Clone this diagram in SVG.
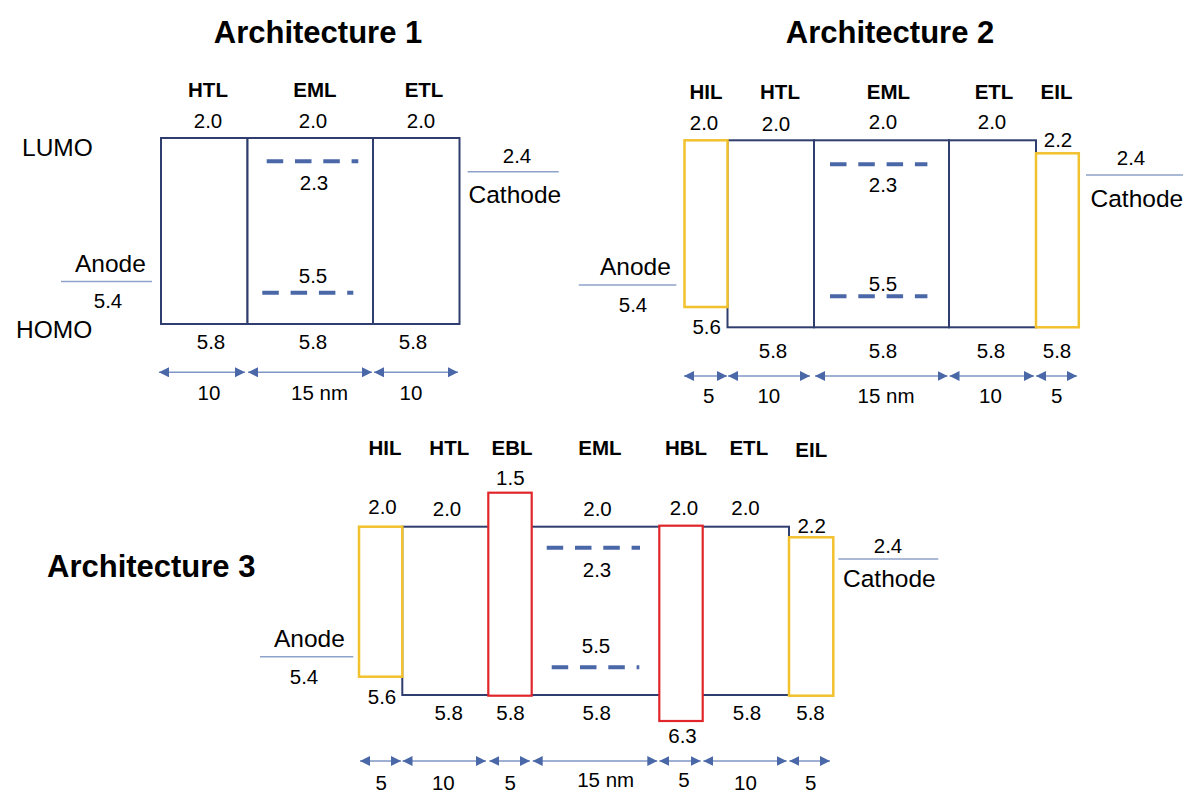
<svg xmlns="http://www.w3.org/2000/svg" width="1199" height="811" viewBox="0 0 1199 811">
<defs>
<style>
text{font-family:"Liberation Sans",Arial,sans-serif;fill:#000}
.t{font-size:31px;font-weight:bold}
.lb{font-size:20.5px;font-weight:bold;text-anchor:middle}
.n{font-size:20.5px;text-anchor:middle}
.w{font-size:24.5px}
.nv{fill:#fff;stroke:#2F3E6E;stroke-width:2}
.yl{fill:#fff;stroke:#F2C12E;stroke-width:2.5}
.rd{fill:#fff;stroke:#E0262B;stroke-width:2.2}
.ds{stroke:#4A67A8;stroke-width:4;stroke-dasharray:16.5 11.8;fill:none}
.el{stroke:#8EA3C9;stroke-width:1.5}
.ar{stroke:#7F96C6;stroke-width:1.5;marker-start:url(#ah);marker-end:url(#ah)}
</style>
<marker id="ah" markerUnits="userSpaceOnUse" markerWidth="11" markerHeight="11" refX="10" refY="5" orient="auto-start-reverse">
<path d="M0,0 L10,5 L0,10 z" fill="#4A67A8"/>
</marker>
</defs>
<rect width="1199" height="811" fill="#fff"/>

<!-- Titles -->
<text class="t" x="318" y="43" text-anchor="middle">Architecture 1</text>
<text class="t" x="890" y="43" text-anchor="middle">Architecture 2</text>
<text class="t" x="47" y="577">Architecture 3</text>

<!-- ===== Architecture 1 ===== -->
<g id="a1-side">
<text class="w" x="22" y="156">LUMO</text>
<text class="w" x="16" y="338">HOMO</text>
</g>
<g id="a1-anode">
<text class="w" x="75" y="272">Anode</text>
<line class="el" x1="61" y1="281.5" x2="152" y2="281.5"/>
<text class="n" x="108" y="308">5.4</text>
</g>
<g id="a1-htl">
<text class="lb" x="208" y="97">HTL</text>
<text class="n" x="208" y="128">2.0</text>
<rect class="nv" x="161" y="138" width="86.5" height="186"/>
<text class="n" x="211" y="349">5.8</text>
</g>
<g id="a1-eml">
<text class="lb" x="315" y="97">EML</text>
<text class="n" x="313" y="128">2.0</text>
<rect class="nv" x="247.5" y="138" width="125.5" height="186"/>
<line class="ds" x1="266.7" y1="161.3" x2="358.3" y2="161.3"/>
<text class="n" x="314" y="190">2.3</text>
<text class="n" x="313" y="283">5.5</text>
<line class="ds" x1="262.3" y1="292.7" x2="353.3" y2="292.7"/>
<text class="n" x="313" y="349">5.8</text>
</g>
<g id="a1-etl">
<text class="lb" x="424" y="97">ETL</text>
<text class="n" x="421" y="128">2.0</text>
<rect class="nv" x="373" y="138" width="86.5" height="186"/>
<text class="n" x="413" y="349">5.8</text>
</g>
<g id="a1-cathode">
<text class="n" x="517" y="162.5">2.4</text>
<line class="el" x1="467.7" y1="171.7" x2="558.7" y2="171.7"/>
<text class="w" x="468.5" y="202.5">Cathode</text>
</g>

<!-- ===== Architecture 2 ===== -->
<g id="a2-anode">
<text class="w" x="600" y="275">Anode</text>
<line class="el" x1="578.8" y1="285" x2="676.4" y2="285"/>
<text class="n" x="633" y="311.5">5.4</text>
</g>
<g id="a2-htl">
<text class="lb" x="780" y="99">HTL</text>
<text class="n" x="776" y="131">2.0</text>
<rect class="nv" x="727.5" y="140.3" width="86.5" height="187"/>
<text class="n" x="773" y="358">5.8</text>
</g>
<g id="a2-eml">
<text class="lb" x="888.5" y="99">EML</text>
<text class="n" x="883" y="129">2.0</text>
<rect class="nv" x="814" y="140.3" width="135" height="187"/>
<line class="ds" x1="830" y1="164.3" x2="927.4" y2="164.3"/>
<text class="n" x="883" y="191.5">2.3</text>
<text class="n" x="883" y="291">5.5</text>
<line class="ds" x1="830" y1="296.3" x2="927.4" y2="296.3"/>
<text class="n" x="883" y="358">5.8</text>
</g>
<g id="a2-etl">
<text class="lb" x="994" y="99">ETL</text>
<text class="n" x="992" y="129">2.0</text>
<rect class="nv" x="949" y="140.3" width="87" height="187"/>
<text class="n" x="991" y="358">5.8</text>
</g>
<g id="a2-hil">
<text class="lb" x="706" y="99">HIL</text>
<text class="n" x="704" y="130">2.0</text>
<rect class="yl" x="684.5" y="140.3" width="43" height="166.7"/>
<text class="n" x="706.7" y="334">5.6</text>
</g>
<g id="a2-eil">
<text class="lb" x="1056.5" y="99">EIL</text>
<text class="n" x="1058" y="146.5">2.2</text>
<rect class="yl" x="1036" y="153.3" width="42.8" height="174"/>
<text class="n" x="1057" y="358">5.8</text>
</g>
<g id="a2-cathode">
<text class="n" x="1131" y="165">2.4</text>
<line class="el" x1="1086" y1="175" x2="1183" y2="175"/>
<text class="w" x="1090.5" y="207">Cathode</text>
</g>

<!-- ===== Architecture 3 ===== -->
<g id="a3-anode">
<text class="w" x="274" y="646.5">Anode</text>
<line class="el" x1="260" y1="656.7" x2="353.3" y2="656.7"/>
<text class="n" x="304" y="684">5.4</text>
</g>
<g id="a3-htl">
<text class="lb" x="449.3" y="455">HTL</text>
<text class="n" x="447" y="516">2.0</text>
<rect class="nv" x="402.3" y="526.7" width="386.7" height="168.3"/>
<text class="n" x="448.7" y="720">5.8</text>
</g>
<g id="a3-eml">
<text class="lb" x="600" y="455">EML</text>
<text class="n" x="597.5" y="516">2.0</text>
<line class="ds" x1="546.7" y1="547.7" x2="640" y2="547.7"/>
<text class="n" x="597" y="576.7">2.3</text>
<text class="n" x="596" y="652.7">5.5</text>
<line class="ds" x1="551.7" y1="667.3" x2="639.3" y2="667.3"/>
<text class="n" x="596.7" y="720">5.8</text>
</g>
<g id="a3-etl">
<text class="lb" x="748.8" y="455">ETL</text>
<text class="n" x="745.5" y="515">2.0</text>
<text class="n" x="747" y="720">5.8</text>
</g>
<g id="a3-hil">
<text class="lb" x="385" y="455">HIL</text>
<text class="n" x="382.5" y="514">2.0</text>
<rect class="yl" x="359" y="526.7" width="43.3" height="150"/>
<text class="n" x="382" y="704">5.6</text>
</g>
<g id="a3-ebl">
<text class="lb" x="512" y="455">EBL</text>
<text class="n" x="510.3" y="485">1.5</text>
<rect class="rd" x="488.3" y="492.7" width="43.4" height="203"/>
<text class="n" x="510.5" y="720">5.8</text>
</g>
<g id="a3-hbl">
<text class="lb" x="686" y="455">HBL</text>
<text class="n" x="684" y="515">2.0</text>
<rect class="rd" x="659.3" y="525.7" width="43.4" height="195.3"/>
<text class="n" x="682.5" y="743">6.3</text>
</g>
<g id="a3-eil">
<text class="lb" x="811.3" y="457">EIL</text>
<text class="n" x="811.7" y="533">2.2</text>
<rect class="yl" x="789" y="537.3" width="44.3" height="158.4"/>
<text class="n" x="810.5" y="720">5.8</text>
</g>
<g id="a3-cathode">
<text class="n" x="888" y="552.7">2.4</text>
<line class="el" x1="838.3" y1="559" x2="938.3" y2="559"/>
<text class="w" x="843" y="587">Cathode</text>
</g>

<!-- ===== Thickness connectors ===== -->
<g id="connectors">
<line class="ar" x1="159" y1="372.3" x2="245" y2="372.3"/>
<line class="ar" x1="248" y1="372.3" x2="372" y2="372.3"/>
<line class="ar" x1="374" y1="372.3" x2="458" y2="372.3"/>

<line class="ar" x1="684" y1="376" x2="727" y2="376"/>
<line class="ar" x1="728" y1="376" x2="810" y2="376"/>
<line class="ar" x1="815" y1="376" x2="947.5" y2="376"/>
<line class="ar" x1="949.5" y1="376" x2="1034" y2="376"/>
<line class="ar" x1="1036" y1="376" x2="1077" y2="376"/>

<line class="ar" x1="360" y1="761" x2="401" y2="761"/>
<line class="ar" x1="402.5" y1="761" x2="486" y2="761"/>
<line class="ar" x1="489.3" y1="761" x2="530" y2="761"/>
<line class="ar" x1="532.7" y1="761" x2="657.3" y2="761"/>
<line class="ar" x1="659.3" y1="761" x2="700.7" y2="761"/>
<line class="ar" x1="703.3" y1="761" x2="786.7" y2="761"/>
<line class="ar" x1="789.3" y1="761" x2="830" y2="761"/>
</g>
<g id="thickness-labels">
<text class="n" x="209" y="400">10</text>
<text class="n" x="319.6" y="400">15 nm</text>
<text class="n" x="411" y="400">10</text>

<text class="n" x="708.6" y="403">5</text>
<text class="n" x="768.8" y="403">10</text>
<text class="n" x="886" y="403">15 nm</text>
<text class="n" x="990.5" y="403">10</text>
<text class="n" x="1056.7" y="403">5</text>

<text class="n" x="381.3" y="790">5</text>
<text class="n" x="443.3" y="790">10</text>
<text class="n" x="510.3" y="790">5</text>
<text class="n" x="605.7" y="786.5">15 nm</text>
<text class="n" x="684" y="787">5</text>
<text class="n" x="745.5" y="790">10</text>
<text class="n" x="810.8" y="790">5</text>
</g>
</svg>
